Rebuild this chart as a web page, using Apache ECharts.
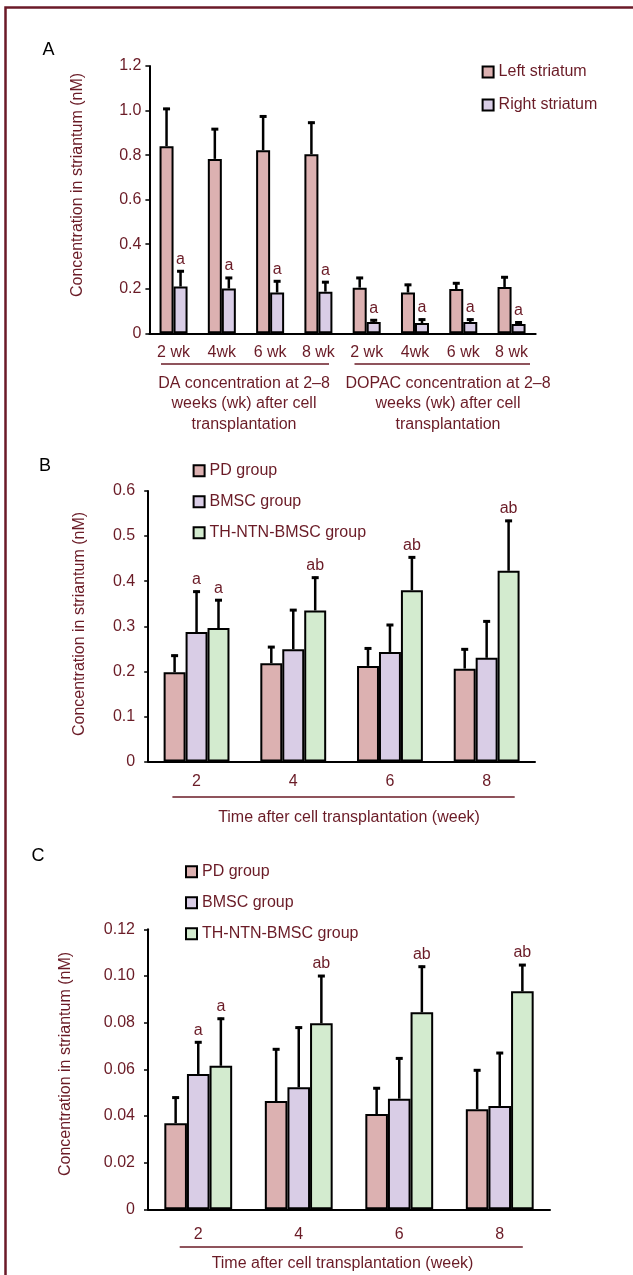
<!DOCTYPE html>
<html>
<head>
<meta charset="utf-8">
<script src="https://cdn.jsdelivr.net/npm/echarts@6/dist/echarts.min.js"></script>
<style>html,body{margin:0;padding:0;background:#fff}#c{width:633px;height:1275px}</style>
</head>
<body>
<div id="c"></div>
<script>
// ---------- data ----------
const catsA = ['2 wk','4wk','6 wk','8 wk','2 wk','4wk','6 wk','8 wk'];
const leftStriatum  = [0.840, 0.783, 0.822, 0.804, 0.205, 0.183, 0.199, 0.208];
const leftSD        = [0.172, 0.138, 0.156, 0.146, 0.048, 0.039, 0.030, 0.048];
const rightStriatum = [0.210, 0.201, 0.183, 0.187, 0.051, 0.046, 0.051, 0.042];
const rightSD       = [0.073, 0.052, 0.055, 0.047, 0.012, 0.020, 0.015, 0.011];
const rightMarks    = ['a','a','a','a','a','a','a','a'];
const ticksA = [0, 0.2, 0.4, 0.6, 0.8, 1.0, 1.2];

const weeks = ['2','4','6','8'];
const pdB   = [0.198, 0.218, 0.212, 0.206];
const pdBsd = [0.039, 0.038, 0.041, 0.045];
const bmB   = [0.287, 0.249, 0.243, 0.230];
const bmBsd = [0.092, 0.089, 0.062, 0.083];
const thB   = [0.296, 0.335, 0.380, 0.423];
const thBsd = [0.064, 0.075, 0.075, 0.113];
const ticksB = [0, 0.1, 0.2, 0.3, 0.4, 0.5, 0.6];

const pdC   = [0.0369, 0.0464, 0.0408, 0.0429];
const pdCsd = [0.0114, 0.0226, 0.0115, 0.0171];
const bmC   = [0.0580, 0.0523, 0.0474, 0.0443];
const bmCsd = [0.0140, 0.0260, 0.0177, 0.0231];
const thC   = [0.0615, 0.0797, 0.0844, 0.0934];
const thCsd = [0.0206, 0.0207, 0.0200, 0.0117];
const ticksC = [0, 0.02, 0.04, 0.06, 0.08, 0.10, 0.12];

const bmMarks = ['a','','',''];
const thMarks = ['a','ab','ab','ab'];

// ---------- style ----------
const FONT = '"Liberation Sans", Arial, Helvetica, sans-serif';
const TXT = '#6a1b26';
const PINK = '#dcb1b1', LAV = '#d9cde6', GREEN = '#d3ebcf';

function yAxis(gi, ticks, dec, margin) {
  return {
    type: 'value', gridIndex: gi, min: ticks[0], max: ticks[ticks.length-1],
    interval: ticks[1] - ticks[0],
    axisLine: {show: true, lineStyle: {color: '#000', width: 2}},
    axisTick: {show: true, length: 4, lineStyle: {color: '#000', width: 1.5}},
    splitLine: {show: false},
    axisLabel: {color: TXT, fontSize: 16, fontFamily: FONT, margin: margin,
      formatter: v => v === 0 ? '0' : v.toFixed(dec)}
  };
}
function xAxis(gi, cats, margin) {
  return {
    type: 'category', gridIndex: gi, data: cats,
    axisLine: {lineStyle: {color: '#000', width: 2}},
    axisTick: {show: false},
    axisLabel: {color: TXT, fontSize: 16, fontFamily: FONT, margin: margin, interval: 0}
  };
}
function bar(gi, name, vals, color, w) {
  return {
    type: 'bar', name: name, xAxisIndex: gi, yAxisIndex: gi, data: vals,
    barWidth: w, barGap: '0%',
    itemStyle: {color: color, borderColor: '#000', borderWidth: 2},
    z: 2
  };
}
function err(gi, vals, sds, marks, s, n, frac) {
  return {
    type: 'custom', xAxisIndex: gi, yAxisIndex: gi, silent: true, z: 5,
    data: vals.map((v, i) => [i, v, v + sds[i]]),
    encode: {x: 0, y: [1, 2]},
    renderItem: function (params, api) {
      const i = api.value(0);
      const band = api.size([1, 0])[0];
      const off = (s - (n - 1) / 2) * band * frac;
      const base = api.coord([i, api.value(1)]);
      const top = api.coord([i, api.value(2)]);
      const x = base[0] + off;
      const ch = [
        {type: 'line', shape: {x1: x, y1: base[1], x2: x, y2: top[1]}, style: {stroke: '#000', lineWidth: 2.5}},
        {type: 'line', shape: {x1: x - 3.5, y1: top[1] + 1, x2: x + 3.5, y2: top[1] + 1}, style: {stroke: '#000', lineWidth: 3}}
      ];
      const lab = marks ? marks[params.dataIndex] : '';
      if (lab) ch.push({type: 'text', style: {text: lab, x: x, y: top[1] - 3, align: 'center', verticalAlign: 'bottom',
        fill: TXT, fontSize: 16, fontFamily: FONT}});
      return {type: 'group', children: ch};
    }
  };
}
function legend(names, left, top, gap) {
  return {
    data: names, orient: 'vertical', left: left, top: top, padding: 0,
    itemWidth: 11, itemHeight: 11, itemGap: gap, selectedMode: false,
    icon: 'rect',
    textStyle: {color: TXT, fontSize: 16, fontFamily: FONT, lineHeight: 16}
  };
}
function txt(text, x, y, opts) {
  return Object.assign({type: 'text', x: x, y: y, silent: true,
    style: Object.assign({text: text, fill: TXT, fontSize: 16, fontFamily: FONT, align: 'center', verticalAlign: 'middle'}, opts && opts.style || {})},
    opts && opts.el || {});
}
function uline(x1, x2, y) {
  return {type: 'line', silent: true, shape: {x1: x1, y1: y, x2: x2, y2: y}, style: {stroke: TXT, lineWidth: 1.5}};
}

const fA = 0.29, fB = 0.227, fC = 0.225;
const grpB = ['PD group', 'BMSC group', 'TH-NTN-BMSC group'];

const option = {
  animation: false,
  backgroundColor: '#fff',
  grid: [
    {left: 149.4, right: 97.3, top: 66, height: 267.3},
    {left: 148.2, right: 98, top: 491, height: 270.5},
    {left: 148, right: 83, top: 929.3, height: 280}
  ],
  xAxis: [xAxis(0, catsA, 11), xAxis(1, weeks, 12), xAxis(2, weeks, 17)],
  yAxis: [yAxis(0, ticksA, 1, 8), yAxis(1, ticksB, 1, 13), yAxis(2, ticksC, 2, 13)],
  legend: [
    legend(['Left striatum', 'Right striatum'], 481.6, 64, 17),
    legend(grpB, 192.6, 462.7, 15),
    legend(grpB, 185, 863.7, 15)
  ],
  series: [
    bar(0, 'Left striatum', leftStriatum, PINK, (fA*100)+'%'),
    bar(0, 'Right striatum', rightStriatum, LAV, (fA*100)+'%'),
    err(0, leftStriatum, leftSD, null, 0, 2, fA),
    err(0, rightStriatum, rightSD, rightMarks, 1, 2, fA),

    bar(1, grpB[0], pdB, PINK, (fB*100)+'%'),
    bar(1, grpB[1], bmB, LAV, (fB*100)+'%'),
    bar(1, grpB[2], thB, GREEN, (fB*100)+'%'),
    err(1, pdB, pdBsd, null, 0, 3, fB),
    err(1, bmB, bmBsd, bmMarks, 1, 3, fB),
    err(1, thB, thBsd, thMarks, 2, 3, fB),

    bar(2, grpB[0], pdC, PINK, (fC*100)+'%'),
    bar(2, grpB[1], bmC, LAV, (fC*100)+'%'),
    bar(2, grpB[2], thC, GREEN, (fC*100)+'%'),
    err(2, pdC, pdCsd, null, 0, 3, fC),
    err(2, bmC, bmCsd, bmMarks, 1, 3, fC),
    err(2, thC, thCsd, thMarks, 2, 3, fC)
  ],
  graphic: [
    {type: 'polyline', silent: true, shape: {points: [[5.5, 1275], [5.5, 7.5], [633, 7.5]]},
      style: {stroke: '#6b1a28', lineWidth: 2.5, fill: null}},
    txt('A', 42.4, 50, {style: {fill: '#000', fontSize: 18, align: 'left'}}),
    txt('B', 39, 466, {style: {fill: '#000', fontSize: 18, align: 'left'}}),
    txt('C', 31.5, 856, {style: {fill: '#000', fontSize: 18, align: 'left'}}),
    txt('Concentration in striantum (nM)', 77.7, 185, {el: {rotation: Math.PI / 2}}),
    txt('Concentration in striantum (nM)', 79.7, 624, {el: {rotation: Math.PI / 2}}),
    txt('Concentration in striantum (nM)', 65.6, 1064, {el: {rotation: Math.PI / 2}}),
    uline(161, 329, 364),
    uline(354.5, 530, 364),
    txt('DA concentration at 2\u20138\nweeks (wk) after cell\ntransplantation', 244, 373, {style: {verticalAlign: 'top', lineHeight: 20.5}}),
    txt('DOPAC concentration at 2\u20138\nweeks (wk) after cell\ntransplantation', 448, 373, {style: {verticalAlign: 'top', lineHeight: 20.5}}),
    uline(172.4, 514.7, 797),
    txt('Time after cell transplantation (week)', 349, 818),
    uline(179.7, 522.8, 1247),
    txt('Time after cell transplantation (week)', 342.5, 1264)
  ]
};

const chart = echarts.init(document.getElementById('c'), null, {renderer: 'canvas'});
chart.setOption(option);
</script>
</body>
</html>
